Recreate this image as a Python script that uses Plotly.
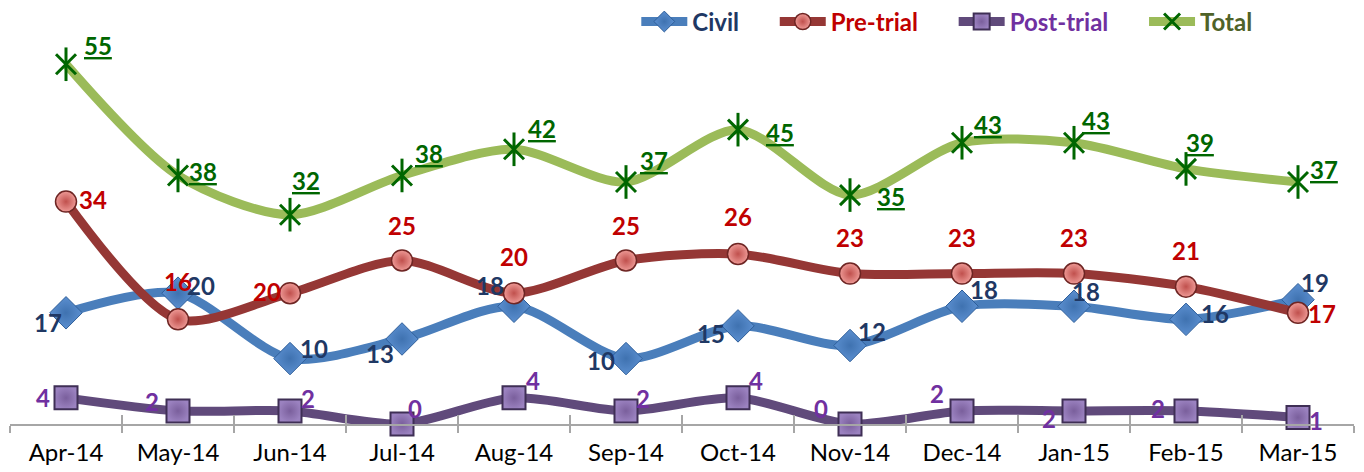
import plotly.graph_objects as go

months = ["Apr-14", "May-14", "Jun-14", "Jul-14", "Aug-14", "Sep-14",
          "Oct-14", "Nov-14", "Dec-14", "Jan-15", "Feb-15", "Mar-15"]
civil = [17, 20, 10, 13, 18, 10, 15, 12, 18, 18, 16, 19]
pretrial = [34, 16, 20, 25, 20, 25, 26, 23, 23, 23, 21, 17]
posttrial = [4, 2, 2, 0, 4, 2, 4, 0, 2, 2, 2, 1]
total = [55, 38, 32, 38, 42, 37, 45, 35, 43, 43, 39, 37]

# label offsets in pixels (dx right, dy up) relative to each point
civil_dx = [-18, 23, 24, -22, -24, -25, -27, 22, 22, 12, 29, 17]
civil_dy = [-10, 8, 10, -15, 21, -2, -8, 14, 17, 15, 6, 17]
pre_dx = [27, 0, -23, 0, 0, 0, 0, 0, 0, 0, 0, 24]
pre_dy = [2, 38, 2, 35, 37, 35, 37, 36, 36, 36, 36, -1]
post_dx = [-23, -26, 18, 13, 19, 17, 18, -29, -25, -25, -28, 18]
post_dy = [0, 9, 12, 16, 17, 12, 17, 16, 17, -8, 2, -3]
total_dx = [32, 25, 16, 27, 28, 28, 42, 41, 26, 22, 14, 26]
total_dy = [19, 4, 34, 22, 21, 21, -3, -1, 18, 22, 26, 12]

FONT = "Lato"
LSIZE = 24
PAD = "\u00a0" * 5
fig = go.Figure()

def add(name, vals, line_color, marker, legend_color):
    fig.add_trace(go.Scatter(
        x=months, y=vals, mode="lines+markers",
        name=f"<b><span style='color:{legend_color}'>{name}</span></b>{PAD}",
        line=dict(color=line_color, width=9, shape="spline", smoothing=0.8),
        marker=marker, cliponaxis=False, hoverinfo="x+y",
    ))

add("Civil", civil, "#4a7ebb",
    dict(symbol="diamond", size=25, color="#5b8fd0", line=dict(color="#2f5f9a", width=1),
         gradient=dict(type="radial", color="#3f72b0")),
    "#1f3864")
add("Pre-trial", pretrial, "#953735",
    dict(symbol="circle", size=21, color="#ee9a96", line=dict(color="#6e2523", width=1.5),
         gradient=dict(type="radial", color="#c0504d")),
    "#c00000")
add("Post-trial", posttrial, "#604a7b",
    dict(symbol="square", size=23, color="#9b82c0", line=dict(color="#3f2f55", width=2),
         gradient=dict(type="radial", color="#7a5f9c")),
    "#7030a0")
add("Total", total, "#9bbb59",
    dict(symbol="x-thin-open", size=20, color="#006600", line=dict(color="#006600", width=3)),
    "#4f6228")
fig.add_trace(go.Scatter(
    x=months, y=total, mode="markers", showlegend=False, hoverinfo="skip",
    marker=dict(symbol="line-ns-open", size=24, color="#006600",
                line=dict(color="#006600", width=3)),
    cliponaxis=False,
))

# crossing tick marks (inside part) on an overlaid axis
fig.add_trace(go.Scatter(x=months, y=[None] * len(months), xaxis="x2",
                         showlegend=False, hoverinfo="skip", mode="lines"))

def labels(vals, dx, dy, color, underline=False):
    for m, v, a, b in zip(months, vals, dx, dy):
        t = f"<u>{v}</u>" if underline else f"{v}"
        fig.add_annotation(x=m, y=v, xref="x", yref="y", text=f"<b>{t}</b>",
                           showarrow=False, xshift=a, yshift=b,
                           xanchor="center", yanchor="middle",
                           font=dict(family=FONT, size=LSIZE, color=color))

labels(civil, civil_dx, civil_dy, "#1f3864")
labels(pretrial, pre_dx, pre_dy, "#c00000")
labels(posttrial, post_dx, post_dy, "#7030a0")
labels(total, total_dx, total_dy, "#006600", underline=True)

fig.update_layout(
    width=1356, height=464,
    margin=dict(l=2, r=10, t=0, b=48, autoexpand=False),
    plot_bgcolor="white", paper_bgcolor="white",
    font=dict(family=FONT, size=LSIZE),
    showlegend=True,
    legend=dict(orientation="h", x=0.466, y=0.970, yref="container",
                xanchor="left", yanchor="middle",
                font=dict(family=FONT, size=LSIZE), bgcolor="rgba(0,0,0,0)",
                itemwidth=46, tracegroupgap=0),
    xaxis=dict(type="category", tickson="boundaries", ticks="outside", ticklen=7,
               tickcolor="#a6a6a6", tickwidth=2, showline=True, linecolor="#a6a6a6",
               linewidth=2, showgrid=False, range=[-0.5, 11.5],
               ticklabelstandoff=6,
               tickfont=dict(family=FONT, size=24, color="black")),
    xaxis2=dict(type="category", overlaying="x", side="bottom", tickson="boundaries",
                ticks="inside", ticklen=9, tickcolor="#a6a6a6", tickwidth=2,
                showticklabels=False, showgrid=False, showline=False,
                range=[-0.5, 11.5], categoryarray=months),
    yaxis=dict(range=[0, 63.6], visible=False, showgrid=False, zeroline=False),
)

fig.write_html("out.html")
